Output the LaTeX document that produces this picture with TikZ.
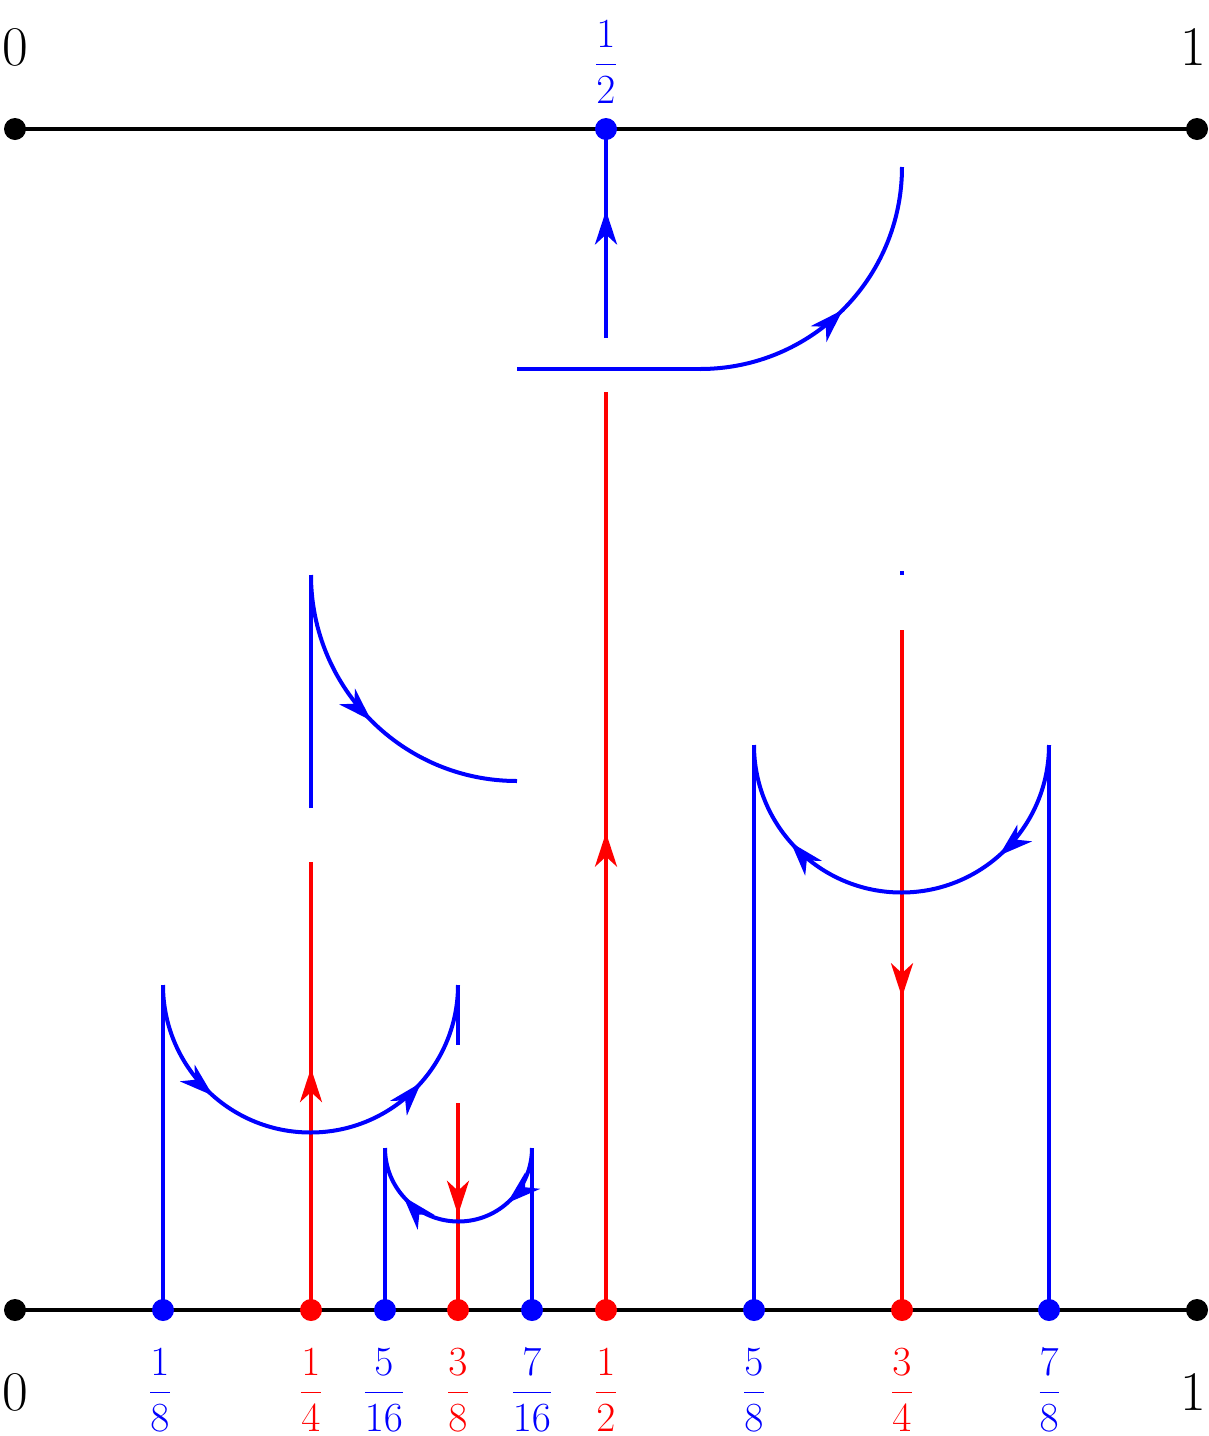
\documentclass[tikz,border=0pt]{standalone}
\usetikzlibrary{arrows.meta,decorations.markings}
\definecolor{bl}{RGB}{0,0,255}
\definecolor{rd}{RGB}{255,0,0}
\tikzset{
  ln/.style={line width=2pt},
  tipat/.style={postaction={decorate},decoration={markings,mark=at position #1 with {\arrow{Stealth[length=17pt,width=11pt,inset=5pt]}}}},
  twotips/.style={postaction={decorate},decoration={markings,
     mark=at position 0.27 with {\arrow{Stealth[length=17pt,width=11pt,inset=5pt]}},
     mark=at position 0.77 with {\arrow{Stealth[length=17pt,width=11pt,inset=5pt]}}}},
  dot/.style={circle,fill=#1,inner sep=0pt,minimum size=11pt},
  big/.style={font=\fontsize{28}{30}\selectfont},
  fr/.style={font=\fontsize{20}{22}\selectfont,text=#1},
}
\begin{document}
\begin{tikzpicture}[x=0.5pt,y=-0.5pt]
\useasboundingbox (0,0) rectangle (1209,1436);
\coordinate (T0) at (15,129); \coordinate (T1) at (1197,129);
\coordinate (B0) at (15,1310); \coordinate (B1) at (1197,1310);
\draw[ln] (T0) -- (T1);
\draw[ln] (B0) -- (B1);
\draw[ln,rd,tipat=0.54] (311,1310) -- (311,862);
\draw[ln,rd,tipat=0.54] (458,1103) -- (458,1310);
\draw[ln,rd,tipat=0.52] (606,1310) -- (606,392);
\draw[ln,rd,tipat=0.54] (902,630) -- (902,1310);
\draw[ln,bl,tipat=0.61] (606,338) -- (606,129);
\draw[ln,bl] (163,1310) -- (163,985);
\draw[ln,bl,twotips] (163,985) arc[start angle=180,end angle=0,radius=147.5];
\draw[ln,bl] (458,985) -- (458,1045);
\draw[ln,bl] (532,1310) -- (532,1148);
\draw[ln,bl,twotips] (532,1148) arc[start angle=0,end angle=180,radius=73.5];
\draw[ln,bl] (385,1148) -- (385,1310);
\draw[ln,bl] (1049,1310) -- (1049,745);
\draw[ln,bl,twotips] (1049,745) arc[start angle=0,end angle=180,radius=147.5];
\draw[ln,bl] (754,745) -- (754,1310);
\draw[ln,bl] (311,808) -- (311,575);
\draw[ln,bl,tipat=0.5] (311,575) arc[start angle=180,end angle=90,radius=206];
\draw[ln,bl] (517,369) -- (700,369);
\draw[ln,bl,tipat=0.5] (700,369) arc[start angle=90,end angle=0,radius=202];
\draw[ln,bl] (902,571) -- (902,575);
\foreach \x/\cc in {15/black,1197/black,163/bl,311/rd,385/bl,458/rd,532/bl,606/rd,754/bl,902/rd,1049/bl}
  \node[dot=\cc] at (\x,1310) {};
\node[dot=black] at (15,129) {}; \node[dot=black] at (1197,129) {}; \node[dot=bl] at (606,129) {};
\node[big] (l0t) at (15,47) {0};
\node[big] (l1t) at (1193,47) {1};
\node[big] (l0b) at (15,1392) {0};
\node[big] (l1b) at (1193,1392) {1};
\node[fr=bl] at (606,62) {$\displaystyle\frac{1}{2}$};
\foreach \x/\nn/\dd/\cc in {160/1/8/bl,311/1/4/rd,384/5/16/bl,458/3/8/rd,532/7/16/bl,606/1/2/rd,754/5/8/bl,902/3/4/rd,1049/7/8/bl}
  \node[fr=\cc] at (\x,1390) {$\displaystyle\frac{\nn}{\dd}$};
\end{tikzpicture}
\end{document}
